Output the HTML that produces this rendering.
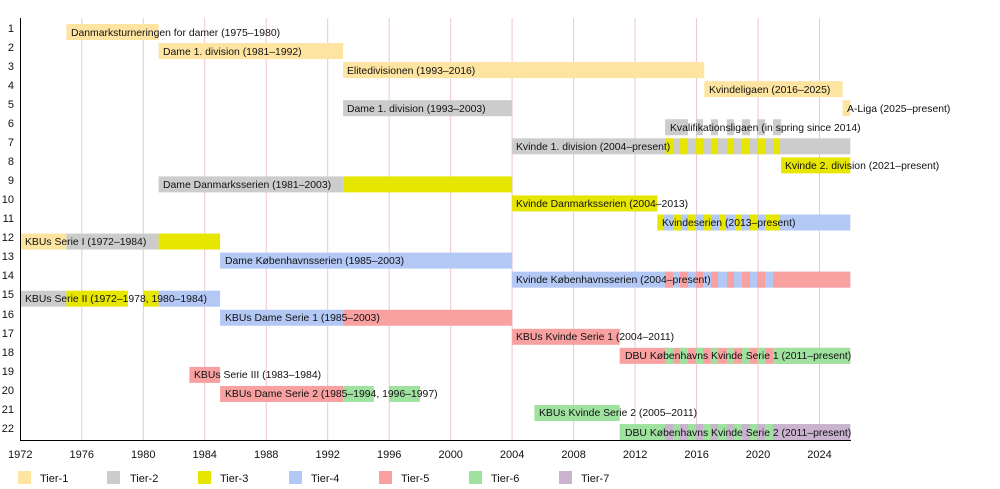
<!DOCTYPE html>
<html><head><meta charset="utf-8"><style>
html,body{margin:0;padding:0;background:#fff}
svg{display:block;font-family:"Liberation Sans",sans-serif}
text{font-size:11px;fill:#111}
.bl text{font-size:10.4px}
</style></head><body>
<svg width="1000" height="489" viewBox="0 0 1000 489" xmlns="http://www.w3.org/2000/svg">
<defs>
<g id="P">
<rect x="665" width="8" height="16"/><rect x="680" width="8" height="16"/><rect x="696" width="7" height="16"/><rect x="711" width="7" height="16"/><rect x="727" width="7" height="16"/><rect x="742" width="8" height="16"/><rect x="757" width="8" height="16"/>
</g>
</defs>
<g stroke="#f2c4cc" stroke-width="1">
<line x1="81.8" y1="18" x2="81.8" y2="440"/><line x1="143.3" y1="18" x2="143.3" y2="440"/><line x1="204.7" y1="18" x2="204.7" y2="440"/><line x1="266.2" y1="18" x2="266.2" y2="440"/><line x1="327.7" y1="18" x2="327.7" y2="440"/><line x1="389.2" y1="18" x2="389.2" y2="440"/><line x1="450.7" y1="18" x2="450.7" y2="440"/><line x1="512.1" y1="18" x2="512.1" y2="440"/><line x1="573.6" y1="18" x2="573.6" y2="440"/><line x1="635.1" y1="18" x2="635.1" y2="440"/><line x1="696.6" y1="18" x2="696.6" y2="440"/><line x1="758" y1="18" x2="758" y2="440"/><line x1="819.5" y1="18" x2="819.5" y2="440"/>
</g>
<g>
<rect x="66.4" y="24" width="92.2" height="16" fill="#fee4a1"/>
<rect x="158.6" y="43.05" width="184.5" height="16" fill="#fee4a1"/>
<rect x="343.1" y="62.1" width="361.2" height="16" fill="#fee4a1"/>
<rect x="704.3" y="81.15" width="138.3" height="16" fill="#fee4a1"/>
<rect x="343.1" y="100.2" width="169" height="16" fill="#cccccc"/>
<rect x="842.6" y="100.2" width="7.7" height="16" fill="#fee4a1"/>
<g transform="translate(0,119.25)" fill="#cccccc"><use href="#P"/><rect x="672" width="8" height="16"/><rect x="773" width="8" height="16"/></g>
<rect x="512.1" y="138.3" width="338.2" height="16" fill="#cccccc"/>
<g transform="translate(0,138.3)" fill="#e6e600"><use href="#P"/><rect x="773" width="7" height="16"/></g>
<rect x="781.1" y="157.35" width="69.2" height="16" fill="#e6e600"/>
<rect x="158.6" y="176.4" width="184.5" height="16" fill="#cccccc"/>
<rect x="343.1" y="176.4" width="169" height="16" fill="#e6e600"/>
<rect x="512.1" y="195.45" width="145.3" height="16" fill="#e6e600"/>
<rect x="657.4" y="214.5" width="192.9" height="16" fill="#b3c8f5"/>
<g transform="translate(0,214.5)" fill="#e6e600"><rect x="657.4" width="6" height="16"/><use href="#P" transform="translate(8,0)"/><rect x="773" width="7" height="16"/></g>
<rect x="20.3" y="233.55" width="46.1" height="16" fill="#fee4a1"/>
<rect x="66.4" y="233.55" width="92.2" height="16" fill="#cccccc"/>
<rect x="158.6" y="233.55" width="61.5" height="16" fill="#e6e600"/>
<rect x="220.1" y="252.6" width="292" height="16" fill="#b3c8f5"/>
<rect x="512.1" y="271.65" width="338.2" height="16" fill="#b3c8f5"/>
<g transform="translate(0,271.65)" fill="#f9a0a0"><use href="#P"/><rect x="773" width="77.3" height="16"/></g>
<rect x="20.3" y="290.7" width="46.1" height="16" fill="#cccccc"/>
<rect x="66.4" y="290.7" width="61.5" height="16" fill="#e6e600"/>
<rect x="143.3" y="290.7" width="15.3" height="16" fill="#e6e600"/>
<rect x="158.6" y="290.7" width="61.5" height="16" fill="#b3c8f5"/>
<rect x="220.1" y="309.75" width="123" height="16" fill="#b3c8f5"/>
<rect x="343.1" y="309.75" width="169" height="16" fill="#f9a0a0"/>
<rect x="512.1" y="328.8" width="107.6" height="16" fill="#f9a0a0"/>
<rect x="619.7" y="347.85" width="230.6" height="16" fill="#f9a0a0"/>
<g transform="translate(0,347.85)" fill="#9fe29f"><use href="#P"/><rect x="773" width="77.3" height="16"/></g>
<rect x="189.4" y="366.9" width="30.7" height="16" fill="#f9a0a0"/>
<rect x="220.1" y="385.95" width="123" height="16" fill="#f9a0a0"/>
<rect x="343.1" y="385.95" width="30.7" height="16" fill="#9fe29f"/>
<rect x="389.2" y="385.95" width="30.7" height="16" fill="#9fe29f"/>
<rect x="534.4" y="405" width="85.3" height="16" fill="#9fe29f"/>
<rect x="619.7" y="424.05" width="230.6" height="16" fill="#9fe29f"/>
<g transform="translate(0,424.05)" fill="#c9b3cf"><use href="#P"/><rect x="773" width="77.3" height="16"/></g>
</g>
<g class="bl">
<text x="71" y="36">Danmarksturneringen for damer (1975–1980)</text>
<text x="163" y="55">Dame 1. division (1981–1992)</text>
<text x="347" y="74">Elitedivisionen (1993–2016)</text>
<text x="709" y="93">Kvindeligaen (2016–2025)</text>
<text x="347" y="112">Dame 1. division (1993–2003)</text>
<text x="847" y="112">A-Liga (2025–present)</text>
<text x="670" y="131">Kvalifikationsligaen (in spring since 2014)</text>
<text x="516" y="150">Kvinde 1. division (2004–present)</text>
<text x="785" y="169">Kvinde 2. division (2021–present)</text>
<text x="163" y="188">Dame Danmarksserien (1981–2003)</text>
<text x="516" y="207">Kvinde Danmarksserien (2004–2013)</text>
<text x="662" y="226">Kvindeserien (2013–present)</text>
<text x="25" y="245">KBUs Serie I (1972–1984)</text>
<text x="225" y="264">Dame Københavnsserien (1985–2003)</text>
<text x="516" y="283">Kvinde Københavnsserien (2004–present)</text>
<text x="25" y="302">KBUs Serie II (1972–1978, 1980–1984)</text>
<text x="225" y="321">KBUs Dame Serie 1 (1985–2003)</text>
<text x="516" y="340">KBUs Kvinde Serie 1 (2004–2011)</text>
<text x="625" y="359">DBU Københavns Kvinde Serie 1 (2011–present)</text>
<text x="194" y="378">KBUs Serie III (1983–1984)</text>
<text x="225" y="397">KBUs Dame Serie 2 (1985–1994, 1996–1997)</text>
<text x="539" y="416">KBUs Kvinde Serie 2 (2005–2011)</text>
<text x="625" y="436">DBU Københavns Kvinde Serie 2 (2011–present)</text>
</g>
<line x1="20.5" y1="18" x2="20.5" y2="440.5" stroke="#000"/>
<line x1="20" y1="440.5" x2="851" y2="440.5" stroke="#000"/>
<g text-anchor="end">
<text x="14" y="32">1</text><text x="14" y="51">2</text><text x="14" y="70">3</text><text x="14" y="89">4</text><text x="14" y="108">5</text><text x="14" y="127">6</text><text x="14" y="146">7</text><text x="14" y="165">8</text><text x="14" y="184">9</text><text x="14" y="203">10</text><text x="14" y="222">11</text><text x="14" y="241">12</text><text x="14" y="260">13</text><text x="14" y="279">14</text><text x="14" y="298">15</text><text x="14" y="318">16</text><text x="14" y="337">17</text><text x="14" y="356">18</text><text x="14" y="375">19</text><text x="14" y="394">20</text><text x="14" y="413">21</text><text x="14" y="432">22</text>
</g>
<g text-anchor="middle">
<text x="20.3" y="458">1972</text><text x="81.8" y="458">1976</text><text x="143.3" y="458">1980</text><text x="204.7" y="458">1984</text><text x="266.2" y="458">1988</text><text x="327.7" y="458">1992</text><text x="389.2" y="458">1996</text><text x="450.7" y="458">2000</text><text x="512.1" y="458">2004</text><text x="573.6" y="458">2008</text><text x="635.1" y="458">2012</text><text x="696.6" y="458">2016</text><text x="758" y="458">2020</text><text x="819.5" y="458">2024</text>
</g>
<g>
<rect x="18" y="471" width="13" height="13" fill="#fee4a1"/><text x="40" y="482">Tier-1</text>
<rect x="107" y="471" width="13" height="13" fill="#cccccc"/><text x="130" y="482">Tier-2</text>
<rect x="198" y="471" width="13" height="13" fill="#e6e600"/><text x="220" y="482">Tier-3</text>
<rect x="289" y="471" width="13" height="13" fill="#b3c8f5"/><text x="311" y="482">Tier-4</text>
<rect x="379" y="471" width="13" height="13" fill="#f9a0a0"/><text x="401" y="482">Tier-5</text>
<rect x="469" y="471" width="13" height="13" fill="#9fe29f"/><text x="491" y="482">Tier-6</text>
<rect x="559" y="471" width="13" height="13" fill="#c9b3cf"/><text x="581" y="482">Tier-7</text>
</g>
</svg>
</body></html>
